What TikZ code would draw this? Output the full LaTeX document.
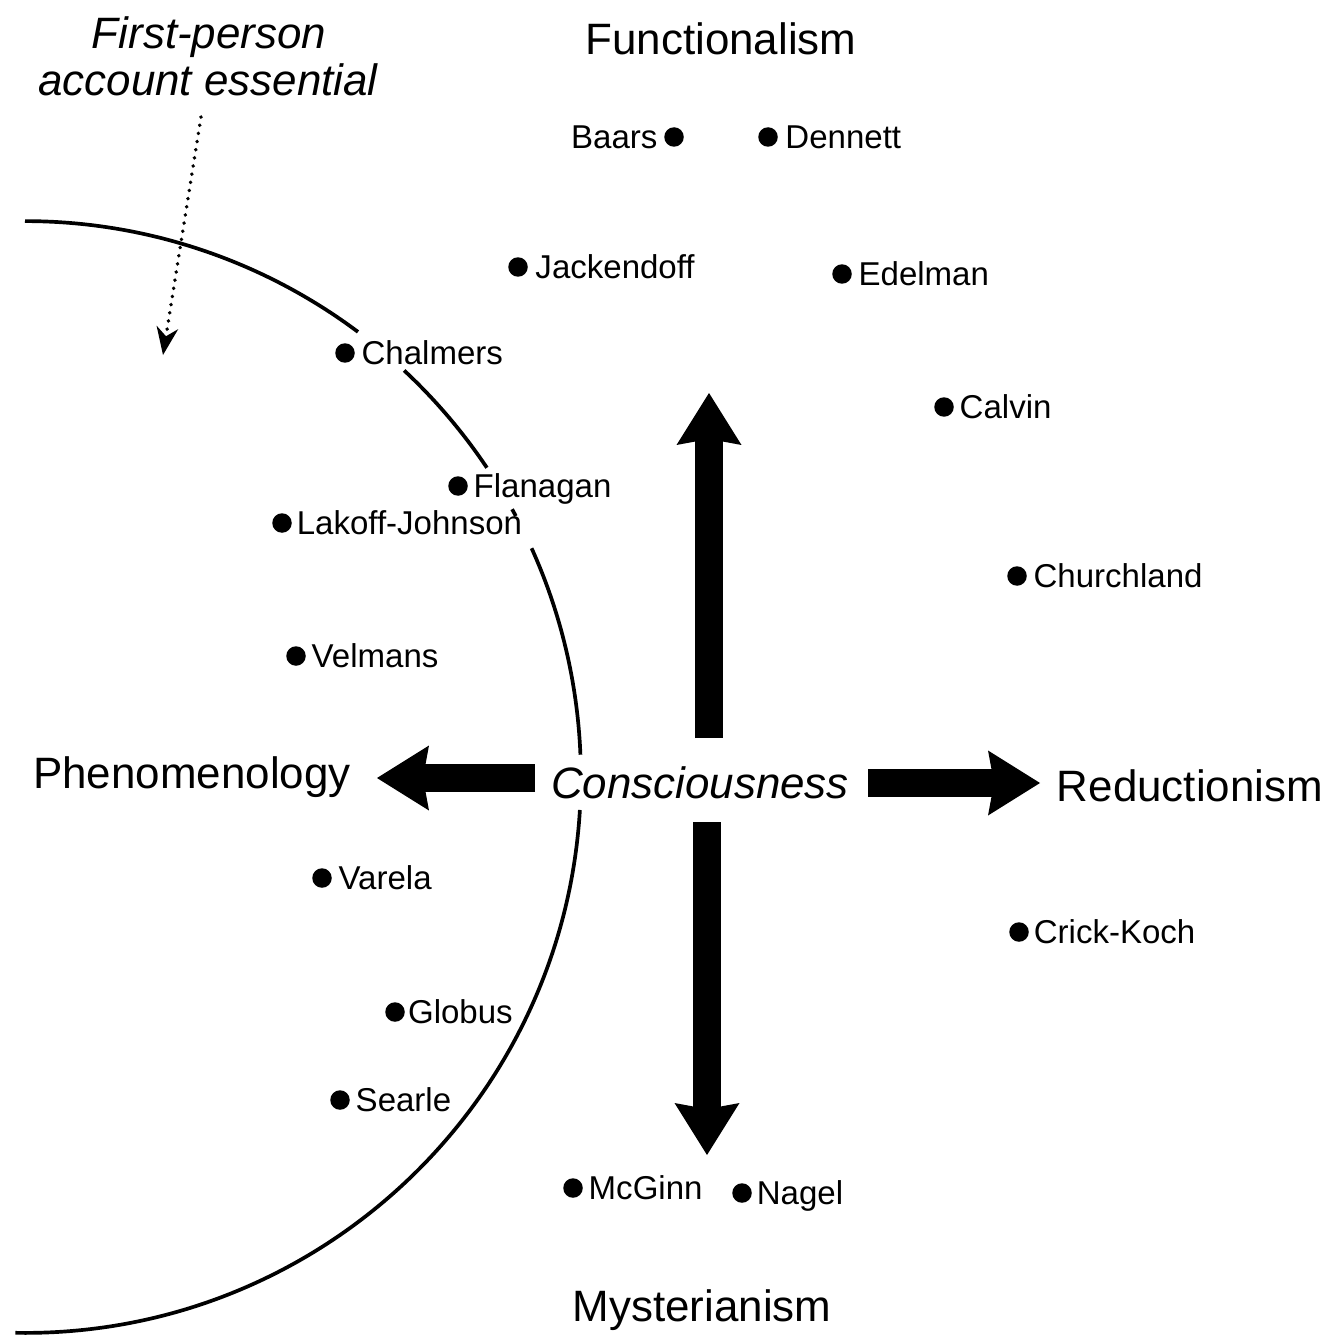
\documentclass[tikz,border=0pt]{standalone}
\usepackage{fontspec}
\setmainfont{Liberation Sans}
\usetikzlibrary{arrows.meta,positioning}
\begin{document}
\begin{tikzpicture}[x=0.02cm, y=0.02cm,
  pdot/.style={circle, fill=black, inner sep=0pt, minimum size=0.39cm},
  pname/.style={font=\fontsize{18.8}{21}\selectfont, inner sep=0pt, text height=13.5pt, text depth=0pt},
  school/.style={font=\fontsize{25}{29}\selectfont, inner sep=0pt, text height=17.9pt, text depth=0pt},
  schoolit/.style={school, font=\fontsize{25}{29}\selectfont\itshape},
  bigarrow/.style={line width=0.56cm, -{Stealth[length=1.04cm, width=1.3cm, inset=0.12cm, line width=0pt]}},
  circ/.style={line width=2.1pt},
  dotarrow/.style={line width=2.1pt, line cap=round, dash pattern=on 0.1pt off 4.6pt,
    -{Stealth[length=0.56cm, width=0.44cm, inset=0.18cm, line width=0pt]}}]
\useasboundingbox (0,0) rectangle (1332,-1341);

% category labels
\node[school] (func) at (721,-39) {Functionalism};
\node[school] (phen) at (192,-773) {Phenomenology};
\node[school] (red) at (1190,-786) {Reductionism};
\node[school] (myst) at (702,-1306) {Mysterianism};
\node[schoolit] (cons) at (700,-783) {Consciousness};
\node[schoolit] (fp1) at (209,-33) {First-person};
\node[schoolit] (fp2) at (208,-80) {account essential};

% big arrows
\coordinate (upS) at (709,-738);   \coordinate (upT) at (709,-393);
\coordinate (lfS) at (535,-778);   \coordinate (lfT) at (377,-778);
\coordinate (rtS) at (868,-783);   \coordinate (rtT) at (1040,-783);
\coordinate (dnS) at (707,-822);   \coordinate (dnT) at (707,-1155);
\draw[bigarrow] (upS) -- (upT);
\draw[bigarrow] (lfS) -- (lfT);
\draw[bigarrow] (rtS) -- (rtT);
\draw[bigarrow] (dnS) -- (dnT);

% dotted arrow
\coordinate (dA) at (201,-117);
\coordinate (dB) at (163,-355);
\draw[dotarrow] (dA) -- (dB);

% circle boundary
\coordinate (ctr) at (25,-777);
\draw[circ] (ctr) ++(90:11.12cm) arc[start angle=90, end angle=53.2, radius=11.12cm];
\draw[circ] (ctr) ++(47:11.12cm) arc[start angle=47, end angle=33.8, radius=11.12cm];
\draw[circ] (ctr) ++(28.8:11.12cm) arc[start angle=28.8, end angle=28.0, radius=11.12cm];
\draw[circ] (ctr) ++(24.3:11.12cm) arc[start angle=24.3, end angle=2.3, radius=11.12cm];
\draw[circ] (ctr) ++(-3.4:11.12cm) arc[start angle=-3.4, end angle=-91, radius=11.12cm];

% people
\node[pdot] (baars) at (674,-137) {};
\node[pname, left=3.5pt of baars] (baarsT) {Baars};
\node[pdot] (dennett) at (768,-137) {};
\node[pname, right=4pt of dennett] (dennettT) {Dennett};
\node[pdot] (jack) at (518,-267) {};
\node[pname, right=4pt of jack] (jackT) {Jackendoff};
\node[pdot] (edel) at (842,-274) {};
\node[pname, right=3.5pt of edel] (edelT) {Edelman};
\node[pdot] (chal) at (345,-353) {};
\node[pname, right=3.5pt of chal] (chalT) {Chalmers};
\node[pdot] (calvin) at (944,-407) {};
\node[pname, right=3pt of calvin] (calvinT) {Calvin};
\node[pdot] (flan) at (458,-486) {};
\node[pname, right=3pt of flan] (flanT) {Flanagan};
\node[pdot] (lakoff) at (282,-523) {};
\node[pname, right=2.5pt of lakoff] (lakoffT) {Lakoff-Johnson};
\node[pdot] (church) at (1017,-576) {};
\node[pname, right=3.5pt of church] (churchT) {Churchland};
\node[pdot] (velm) at (296,-656) {};
\node[pname, right=3pt of velm] (velmT) {Velmans};
\node[pdot] (varela) at (322,-878) {};
\node[pname, right=3.5pt of varela] (varelaT) {Varela};
\node[pdot] (crick) at (1019,-932) {};
\node[pname, right=2.5pt of crick] (crickT) {Crick-Koch};
\node[pdot] (globus) at (395,-1012) {};
\node[pname, right=1.5pt of globus] (globusT) {Globus};
\node[pdot] (searle) at (340,-1100) {};
\node[pname, right=3pt of searle] (searleT) {Searle};
\node[pdot] (mcginn) at (573,-1188) {};
\node[pname, right=3pt of mcginn] (mcginnT) {McGinn};
\node[pdot] (nagel) at (742,-1193) {};
\node[pname, right=2.5pt of nagel] (nagelT) {Nagel};
\end{tikzpicture}
\end{document}
